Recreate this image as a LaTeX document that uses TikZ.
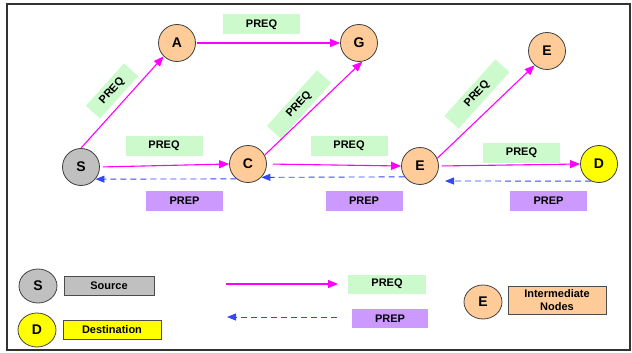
\documentclass[tikz,border=0pt]{standalone}
\usepackage{fontspec}
\setmainfont{Liberation Sans}
\usetikzlibrary{arrows.meta,shapes.geometric}
\definecolor{peach}{RGB}{255,204,153}
\definecolor{srcgray}{RGB}{192,192,192}
\definecolor{dstyellow}{RGB}{255,255,0}
\definecolor{reqgreen}{RGB}{204,250,204}
\definecolor{reppurple}{RGB}{204,153,255}
\definecolor{preqmag}{RGB}{255,0,255}
\definecolor{prepblue}{RGB}{50,70,255}
\definecolor{framegray}{RGB}{50,50,50}
\begin{document}
\begin{tikzpicture}[x=1pt,y=-1pt,
  station/.style={circle,draw=black!75,line width=0.8pt,minimum size=37pt,inner sep=0pt,
    font=\fontsize{14}{14}\selectfont\bfseries},
  inter/.style={station,fill=peach},
  keynode/.style={ellipse,draw=black!75,line width=0.8pt,minimum width=38pt,minimum height=34pt,
    inner sep=0pt,font=\fontsize{14}{14}\selectfont\bfseries},
  reqlabel/.style={fill=reqgreen,minimum width=77pt,minimum height=20pt,inner sep=0pt,
    font=\fontsize{11}{12}\selectfont\bfseries},
  replabel/.style={reqlabel,fill=reppurple},
  keybox/.style={draw=black!70,line width=0.8pt,inner sep=0pt,
    font=\fontsize{11}{12.5}\selectfont\bfseries,align=center},
  preq/.style={draw=preqmag,line width=1.1pt,-{Triangle[length=10pt,width=8pt]}},
  prep/.style={draw=prepblue,line width=0.9pt,dash pattern=on 6pt off 4pt,
    -{Triangle[length=9pt,width=7pt]}},
]
\useasboundingbox (0,0) rectangle (632,353);
\draw[framegray,line width=1.3pt] (7,4) rectangle (630,350);

% network nodes
\node[station,fill=srcgray]   (S)  at (81,167) {S};
\node[inter]                  (A)  at (177,43) {A};
\node[inter]                  (G)  at (359,43) {G};
\node[inter]                  (C)  at (248,164) {C};
\node[inter]                  (E1) at (420,166) {E};
\node[inter]                  (E2) at (547,51) {E};
\node[station,fill=dstyellow] (D)  at (599,164) {D};

% request / reply labels
\node[reqlabel] (lSA) at (112,91)    [rotate=48,minimum width=57pt,minimum height=19pt] {PREQ};
\node[reqlabel] (lAG) at (261.5,24.5) {PREQ};
\node[reqlabel] (lSC) at (164,146)   {PREQ};
\node[replabel] (rSC) at (184.5,201) {PREP};
\node[reqlabel] (lCG) at (299,104.5) [rotate=48,minimum width=75pt,minimum height=19pt] {PREQ};
\node[reqlabel] (lCE) at (349,146)   {PREQ};
\node[replabel] (rCE) at (364,201)   {PREP};
\node[reqlabel] (lEE) at (477,94)    [rotate=48,minimum width=76pt,minimum height=19pt] {PREQ};
\node[reqlabel] (lED) at (521.5,153) {PREQ};
\node[replabel] (rED) at (548.5,201) {PREP};

% request path (forward)
\draw[preq] (S.north) -- (A.225);
\draw[preq,shorten <=1pt] (A.east) -- (G.west);
\draw[preq,shorten <=3pt] (S.east) -- (C.west);
\draw[preq] (C.28) -- (G.-80);
\draw[preq,shorten <=6pt] (C.east) -- (E1.west);
\draw[preq] (E1.24) -- (E2.229);
\draw[preq,shorten <=3pt] (E1.east) -- (D.west);

% reply path (backward)
\coordinate (rEtip) at (445,181);
\draw[prep] (C.232) -- (S.-40);
\draw[prep] (E1.215) -- (C.-45);
\draw[prep] (D.245) -- (rEtip);

% legend
\node[keynode,fill=srcgray]   (kS) at (38,286) {S};
\node[keybox,fill=srcgray,minimum width=90pt,minimum height=19pt] (kSrc) at (109,285.5) {Source};
\node[keynode,fill=dstyellow] (kD) at (37,330) {D};
\node[keybox,fill=dstyellow,minimum width=98pt,minimum height=19pt] (kDst) at (112,329.5) {Destination};

\coordinate (kReqA) at (226,284);
\coordinate (kReqB) at (338,284);
\draw[preq] (kReqA) -- (kReqB);
\node[reqlabel,minimum width=78pt,minimum height=19pt] (kReq) at (387,284) {PREQ};
\coordinate (kRepA) at (337,317);
\coordinate (kRepB) at (227,317);
\draw[prep] (kRepA) -- (kRepB);
\node[replabel,minimum width=76pt,minimum height=19pt] (kRep) at (390,318.5) {PREP};

\node[keynode,fill=peach] (kE) at (483,302) {E};
\node[keybox,fill=peach,minimum width=98pt,minimum height=28pt] (kInt) at (557,300)
  {Intermediate\\Nodes};
\end{tikzpicture}
\end{document}
